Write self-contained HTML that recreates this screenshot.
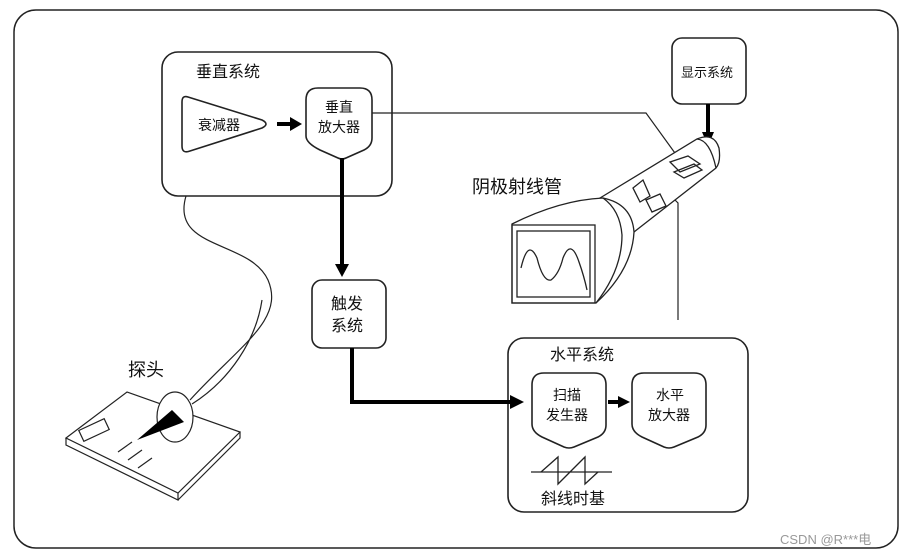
<!DOCTYPE html>
<html><head><meta charset="utf-8"><style>
html,body{margin:0;padding:0;background:#fff;}
svg{display:block;}
text{font-family:"Liberation Sans","Noto Sans CJK SC",sans-serif;fill:#111;}
</style></head><body>
<svg width="908" height="554" viewBox="0 0 908 554" xmlns="http://www.w3.org/2000/svg">
<rect x="0" y="0" width="908" height="554" fill="#fff"/>
<rect x="14" y="10" width="884" height="538" rx="22" fill="none" stroke="#222" stroke-width="1.5"/>
<g fill="none" stroke="#222" stroke-width="1.6">
<rect x="162" y="52" width="230" height="144" rx="16"/>
<path d="M188,97 Q182,95 182,102 L182,146 Q182,154 190,151 L262,128 Q270,124 262,120 Z"/>
<path d="M306,100 Q306,88 318,88 L360,88 Q372,88 372,100 L372,138 Q372,146 364,150 L346,158 Q342,160 338,158 L320,150 Q306,143 306,136 Z"/>
<rect x="312" y="280" width="74" height="68" rx="10"/>
<rect x="508" y="338" width="240" height="174" rx="16"/>
<path d="M532,385 Q532,373 544,373 L594,373 Q606,373 606,385 L606,425 Q606,433 598,437 L574,447 Q569,449 564,447 L542,437 Q532,432 532,424 Z"/>
<path d="M632,385 Q632,373 644,373 L694,373 Q706,373 706,385 L706,425 Q706,433 698,437 L674,447 Q669,449 664,447 L642,437 Q632,432 632,424 Z"/>
<rect x="672" y="38" width="74" height="66" rx="10"/>
</g>
<g fill="none" stroke="#222" stroke-width="1.3">
<line x1="531" y1="472" x2="612" y2="472"/>
<path d="M541,472 L558,457 L558,484 L585,457 L585,484 L598,472"/>
</g>
<g fill="none" stroke="#222" stroke-width="1.2">
<path d="M372,113 L646,113 L680,160"/>
<path d="M678,320 L678,203 L670,195"/>
</g>
<g stroke="#000" stroke-width="4" fill="none">
<line x1="277" y1="124" x2="292" y2="124"/>
<line x1="342" y1="158" x2="342" y2="266"/>
<path d="M352,348 L352,402 L512,402"/>
<line x1="608" y1="402" x2="620" y2="402"/>
<line x1="708" y1="104" x2="708" y2="134"/>
</g>
<g fill="#000">
<polygon points="290,117 302,124 290,131"/>
<polygon points="335,264 342,277 349,264"/>
<polygon points="510,395 524,402 510,409"/>
<polygon points="618,396 630,402 618,408"/>
<polygon points="702,132 708,146 714,132"/>
</g>
<!-- CRT -->
<g fill="#fff" stroke="#222" stroke-width="1.3">
<path d="M600,198 L697,139 Q714,132 719,148 Q721,162 716,168 L634,232 Z"/>
<path d="M512,224 Q560,200 603,198 Q632,204 634,232 Q632,270 596,303 L512,303 Z"/>
</g>
<g fill="none" stroke="#222" stroke-width="1.3">
<path d="M697,139 Q710,140 716,168"/>
<path d="M603,198 Q620,210 622,235 Q622,270 596,303"/>
<rect x="512" y="225" width="83" height="78"/>
<rect x="517" y="231" width="73" height="66"/>
<path d="M521,268 Q528,238 537,258 Q543,282 551,280 Q559,274 563,258 Q571,238 579,262 Q584,276 587,290"/>
<path d="M670,162 L688,156 L700,164 L680,172 Z M674,172 L694,164 L702,170 L684,178 Z"/>
<path d="M633,188 L643,180 L650,196 L640,202 Z M646,200 L660,194 L666,206 L652,212 Z"/>
</g>
<!-- probe cable & board -->
<g fill="none" stroke="#222" stroke-width="1.2">
<path d="M186,196 C170,250 250,240 268,280 C285,320 240,345 190,400"/>
<path d="M192,404 C230,380 256,340 262,300"/>
<path d="M66,438 L127,392 L240,432 L178,493 Z"/>
<path d="M66,438 L66,445 L178,500 L178,493 M178,500 L240,438 L240,432"/>
<rect x="80" y="424" width="28" height="12" transform="rotate(-25 94 430)"/>
<path d="M118,452 L132,442 M128,460 L142,450 M138,468 L152,458"/>
<ellipse cx="175" cy="417" rx="18" ry="25" fill="#fff"/>
</g>
<polygon points="137,440 172,410 184,422" fill="#000"/>
<text x="196" y="77" font-size="16">垂直系统</text>
<text x="198" y="130" font-size="14">衰减器</text>
<text x="325" y="112" font-size="14">垂直</text>
<text x="318" y="132" font-size="14">放大器</text>
<text x="331" y="309" font-size="16">触发</text>
<text x="331" y="331" font-size="16">系统</text>
<text x="681" y="77" font-size="13">显示系统</text>
<text x="472" y="193" font-size="18">阴极射线管</text>
<text x="550" y="360" font-size="16">水平系统</text>
<text x="553" y="400" font-size="14">扫描</text>
<text x="546" y="420" font-size="14">发生器</text>
<text x="656" y="400" font-size="14">水平</text>
<text x="648" y="420" font-size="14">放大器</text>
<text x="541" y="504" font-size="16">斜线时基</text>
<text x="128" y="376" font-size="18">探头</text>
<text x="780" y="544" font-size="13" style="fill:#999">CSDN @R***电</text>
</svg>
</body></html>
